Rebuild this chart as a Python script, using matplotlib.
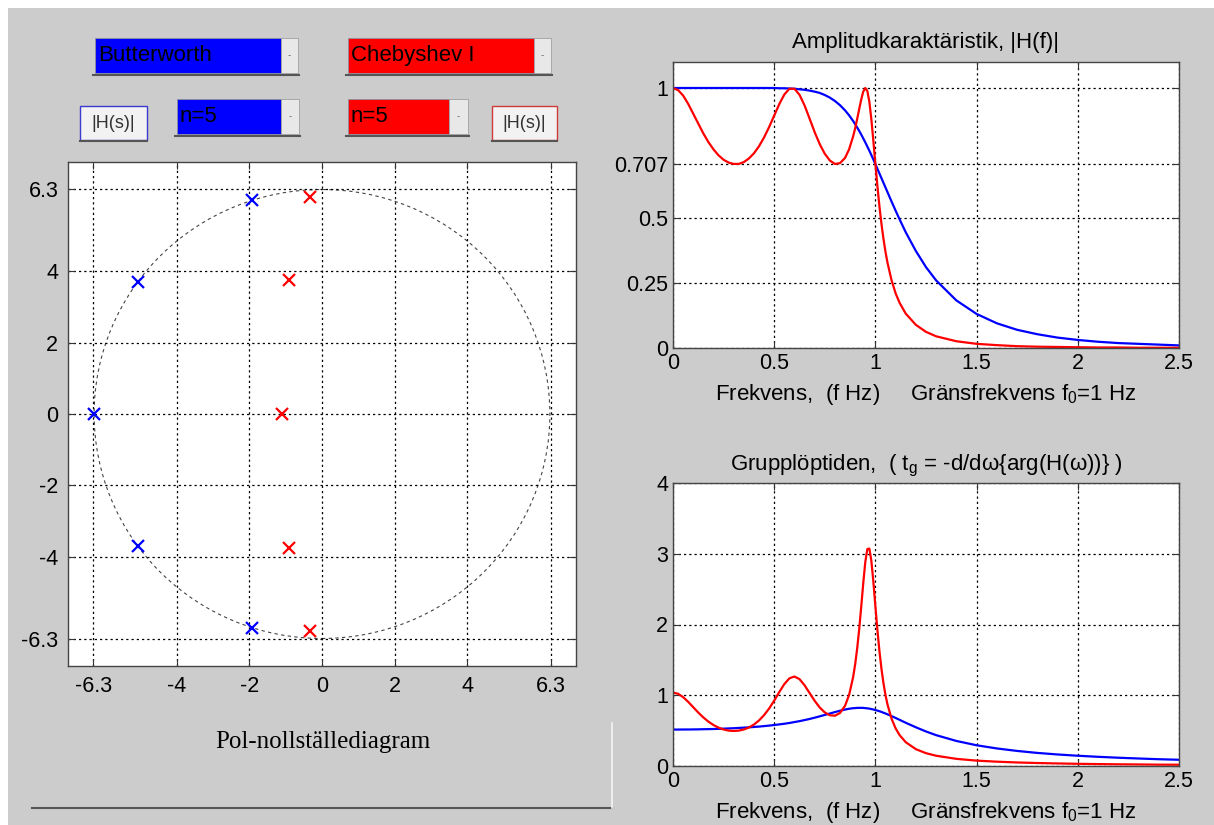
import matplotlib
matplotlib.use("Agg")
import matplotlib.pyplot as plt
from matplotlib.patches import Rectangle, Circle
from matplotlib.lines import Line2D

plt.rcParams['font.family'] = ['Liberation Sans', 'DejaVu Sans']
plt.rcParams['mathtext.default'] = 'regular'

# pol-nollställen (s-planet, rad/s)
butter_re = [-1.94, -5.08, -6.28, -5.08, -1.94]
butter_im = [5.98, 3.69, 0.0, -3.69, -5.98]
cheb_re = [-0.34, -0.90, -1.11, -0.90, -0.34]
cheb_im = [6.07, 3.75, 0.0, -3.75, -6.07]
circle_r = 6.28

pz_ticks = [-6.3, -4, -2, 0, 2, 4, 6.3]
pz_labels = ['-6.3', '-4', '-2', '0', '2', '4', '6.3']

# frekvensaxel (Hz)
freq = [0, 0.025, 0.05, 0.075, 0.1, 0.125, 0.15, 0.175, 0.2, 0.225, 0.25, 0.275, 0.3,
        0.325, 0.35, 0.375, 0.4, 0.425, 0.45, 0.475, 0.5, 0.525, 0.55, 0.575, 0.6, 0.625,
        0.65, 0.675, 0.7, 0.725, 0.75, 0.775, 0.8, 0.825, 0.85, 0.87, 0.89, 0.9, 0.91,
        0.92, 0.93, 0.94, 0.95, 0.96, 0.97, 0.98, 0.99, 1.0, 1.01, 1.02, 1.03, 1.04,
        1.05, 1.06, 1.08, 1.1, 1.12, 1.15, 1.2, 1.25, 1.3, 1.4, 1.5, 1.6, 1.7,
        1.8, 1.9, 2.0, 2.1, 2.2, 2.3, 2.4, 2.5]

butter_mag = [1.000, 1.000, 1.000, 1.000, 1.000, 1.000, 1.000, 1.000, 1.000, 1.000, 1.000, 1.000, 1.000,
              1.000, 1.000, 1.000, 1.000, 1.000, 1.000, 1.000, 1.000, 0.999, 0.999, 0.998, 0.997, 0.995,
              0.993, 0.990, 0.986, 0.981, 0.973, 0.963, 0.950, 0.934, 0.914, 0.895, 0.873, 0.861, 0.848,
              0.835, 0.821, 0.806, 0.791, 0.775, 0.759, 0.742, 0.725, 0.707, 0.689, 0.671, 0.653, 0.635,
              0.617, 0.599, 0.563, 0.528, 0.494, 0.445, 0.373, 0.311, 0.260, 0.183, 0.131, 0.095, 0.070,
              0.053, 0.040, 0.031, 0.024, 0.019, 0.016, 0.013, 0.010]

cheb_mag = [1.000, 0.992, 0.971, 0.939, 0.901, 0.863, 0.825, 0.792, 0.764, 0.741, 0.724, 0.713, 0.708,
            0.708, 0.715, 0.729, 0.749, 0.776, 0.810, 0.850, 0.894, 0.938, 0.975, 0.997, 0.997, 0.974,
            0.933, 0.882, 0.830, 0.784, 0.747, 0.721, 0.708, 0.711, 0.731, 0.764, 0.814, 0.845, 0.881,
            0.919, 0.956, 0.986, 1.000, 0.989, 0.948, 0.880, 0.796, 0.707, 0.622, 0.544, 0.477, 0.419,
            0.369, 0.327, 0.260, 0.210, 0.173, 0.132, 0.089, 0.062, 0.045, 0.026, 0.016, 0.011, 0.007,
            0.005, 0.004, 0.003, 0.002, 0.002, 0.001, 0.001, 0.001]

butter_gd = [0.515, 0.515, 0.516, 0.516, 0.517, 0.518, 0.520, 0.521, 0.523, 0.525, 0.528, 0.531, 0.534,
             0.538, 0.542, 0.547, 0.552, 0.557, 0.564, 0.571, 0.579, 0.588, 0.597, 0.608, 0.621, 0.634,
             0.649, 0.665, 0.683, 0.702, 0.722, 0.742, 0.762, 0.781, 0.798, 0.809, 0.817, 0.819, 0.821,
             0.822, 0.822, 0.821, 0.818, 0.815, 0.811, 0.805, 0.799, 0.791, 0.783, 0.774, 0.764, 0.753,
             0.742, 0.730, 0.705, 0.679, 0.652, 0.611, 0.547, 0.488, 0.436, 0.354, 0.293, 0.248, 0.213,
             0.185, 0.163, 0.145, 0.130, 0.117, 0.106, 0.096, 0.088]

cheb_gd = [1.038, 1.021, 0.974, 0.907, 0.831, 0.755, 0.686, 0.627, 0.579, 0.542, 0.516, 0.500, 0.495,
           0.500, 0.516, 0.544, 0.586, 0.644, 0.719, 0.813, 0.924, 1.045, 1.158, 1.239, 1.265, 1.228,
           1.141, 1.031, 0.921, 0.827, 0.757, 0.717, 0.711, 0.749, 0.851, 1.004, 1.257, 1.437, 1.662,
           1.935, 2.251, 2.584, 2.881, 3.065, 3.074, 2.901, 2.603, 2.257, 1.919, 1.622, 1.372, 1.167,
           1.001, 0.867, 0.667, 0.531, 0.435, 0.336, 0.238, 0.181, 0.145, 0.101, 0.076, 0.061, 0.050,
           0.042, 0.036, 0.031, 0.027, 0.024, 0.022, 0.019, 0.018]

f_ticks = [0, 0.5, 1, 1.5, 2, 2.5]
f_labels = ['0', '0.5', '1', '1.5', '2', '2.5']
mag_ticks = [0, 0.25, 0.5, 0.707, 1]
mag_labels = ['0', '0.25', '0.5', '0.707', '1']
gd_ticks = [0, 1, 2, 3, 4]

W, H = 1214, 825
BLUE = '#0000ff'
RED = '#ff0000'
GRAY = '#cccccc'
FS = 15.5

fig = plt.figure(figsize=(W / 100, H / 100), dpi=100, facecolor='white')
fig.patches.append(Rectangle((8 / W, 0), 1, 1 - 8 / H, transform=fig.transFigure,
                             facecolor=GRAY, edgecolor='none', zorder=-10))


def px(x0, y0, x1, y1):
    # pixelruta -> figurkoordinater
    return (x0 / W, 1 - y1 / H), (x1 - x0) / W, (y1 - y0) / H


def style_axes(ax):
    ax.set_facecolor('white')
    ax.grid(True, color='black', linestyle=(0, (1.8, 2.4)), linewidth=0.9)
    ax.tick_params(direction='in', length=5, top=True, right=True, labelsize=FS,
                   colors='#333333', labelcolor='black', width=0.8)
    for s in ax.spines.values():
        s.set_color('#444444')
        s.set_linewidth(1.0)


# ---- pol-nollställediagram ----
ax1 = fig.add_axes([68 / W, 1 - 666 / H, 508 / W, 504 / H])
style_axes(ax1)
ax1.tick_params(pad=7)
ax1.add_patch(Circle((0, 0), circle_r, fill=False, edgecolor='#444444',
                     linestyle=(0, (3, 3)), linewidth=0.8))
ax1.plot(butter_re, butter_im, 'x', color=BLUE, markersize=9, markeredgewidth=1.6)
ax1.plot(cheb_re, cheb_im, 'x', color=RED, markersize=9, markeredgewidth=1.6)
ax1.set_xlim(-7, 7)
ax1.set_ylim(-7.05, 7.05)
ax1.set_xticks(pz_ticks)
ax1.set_xticklabels(pz_labels)
ax1.set_yticks(pz_ticks)
ax1.set_yticklabels(pz_labels)
fig.text(323 / W, 1 - 748 / H, 'Pol-nollställediagram', family='Liberation Serif',
         fontsize=18, ha='center', va='baseline')

# ---- amplitudkarakteristik ----
ax2 = fig.add_axes([673 / W, 1 - 348 / H, 506 / W, 286 / H])
style_axes(ax2)
ax2.plot(freq, butter_mag, color=BLUE, linewidth=1.6)
ax2.plot(freq, cheb_mag, color=RED, linewidth=1.6)
ax2.set_xlim(0, 2.5)
ax2.set_ylim(0, 1.1)
ax2.set_xticks(f_ticks)
ax2.set_xticklabels(f_labels)
ax2.set_yticks(mag_ticks)
ax2.set_yticklabels(mag_labels)
ax2.text(0.5, (348 - 48) / 286, 'Amplitudkaraktäristik, |H(f)|', transform=ax2.transAxes,
         ha='center', va='baseline', fontsize=16)
ax2.text(0.5, (348 - 400) / 286, 'Frekvens,  (f Hz)     Gränsfrekvens f$_0$=1 Hz',
         transform=ax2.transAxes, ha='center', va='baseline', fontsize=16)

# ---- grupplöptid ----
ax3 = fig.add_axes([673 / W, 1 - 766 / H, 506 / W, 283 / H])
style_axes(ax3)
ax3.plot(freq, butter_gd, color=BLUE, linewidth=1.6)
ax3.plot(freq, cheb_gd, color=RED, linewidth=1.6)
ax3.set_xlim(0, 2.5)
ax3.set_ylim(0, 4)
ax3.set_xticks(f_ticks)
ax3.set_xticklabels(f_labels)
ax3.set_yticks(gd_ticks)
ax3.text(0.5, (766 - 470) / 283, r'Grupplöptiden,  ( t$_g$ = -d/d$\omega${arg(H($\omega$))} )',
         transform=ax3.transAxes, ha='center', va='baseline', fontsize=16)
ax3.text(0.5, (766 - 818) / 283, 'Frekvens,  (f Hz)     Gränsfrekvens f$_0$=1 Hz',
         transform=ax3.transAxes, ha='center', va='baseline', fontsize=16)

# ---- kontroller (popup-menyer och knappar) ----
popups = [(95, 38, 281, 298, 73, BLUE, 'Butterworth'),
          (348, 38, 534, 551, 73, RED, 'Chebyshev I'),
          (177, 99, 281, 299, 134, BLUE, 'n=5'),
          (348, 99, 449, 468, 134, RED, 'n=5')]
for x0, y0, xa, x1, y1, col, txt in popups:
    xy, w, h = px(x0, y0, xa, y1)
    fig.patches.append(Rectangle(xy, w, h, transform=fig.transFigure, facecolor=col,
                                 edgecolor='#9090a0', linewidth=0.6))
    xy, w, h = px(xa, y0, x1, y1)
    fig.patches.append(Rectangle(xy, w, h, transform=fig.transFigure, facecolor='#e8e8e8',
                                 edgecolor='#a0a0a0', linewidth=0.6))
    fig.text((xa + x1) / 2 / W, 1 - (y0 + y1) / 2 / H, '-', fontsize=7, color='#666666',
             ha='center', va='center')
    fig.lines.append(Line2D([(x0 - 2) / W, (x1 + 1) / W], [1 - (y1 + 2) / H] * 2,
                            transform=fig.transFigure, color='#555555', linewidth=1.5))
    fig.text((x0 + 3) / W, 1 - (y0 + y1) / 2 / H, txt, fontsize=16, color='black',
             ha='left', va='center')

buttons = [(80, 106, 147, 140, '#3a3ad0'), (492, 106, 557, 140, '#d03a3a')]
for x0, y0, x1, y1, ec in buttons:
    xy, w, h = px(x0, y0, x1, y1)
    fig.patches.append(Rectangle(xy, w, h, transform=fig.transFigure, facecolor='#f2f2f2',
                                 edgecolor=ec, linewidth=1.0))
    fig.lines.append(Line2D([x0 / W, x1 / W], [1 - (y1 + 1) / H] * 2,
                            transform=fig.transFigure, color='#555555', linewidth=1.5))
    fig.text((x0 + x1) / 2 / W, 1 - (y0 + y1) / 2 / H, '|H(s)|', fontsize=13,
             color='#333333', ha='center', va='center')

# ramlinjer nere till vänster
fig.lines.append(Line2D([32 / W, 612 / W], [1 - 808 / H] * 2, transform=fig.transFigure,
                        color='#555555', linewidth=1.5))
fig.lines.append(Line2D([612 / W, 612 / W], [1 - 723 / H, 1 - 808 / H], transform=fig.transFigure,
                        color='#f4f4f4', linewidth=1.2))

fig.savefig('out.png', dpi=100, facecolor=fig.get_facecolor())
